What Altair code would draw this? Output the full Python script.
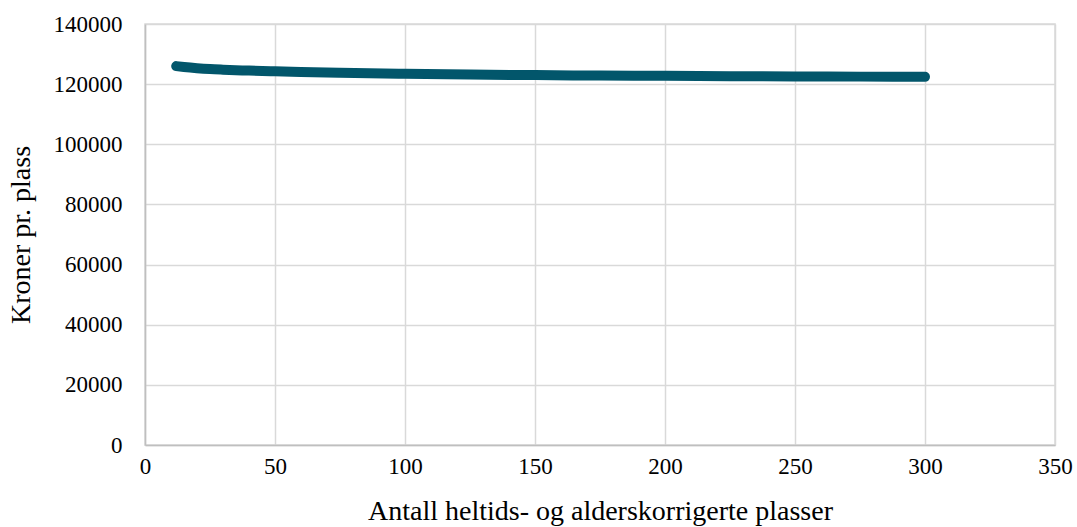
import altair as alt
import pandas as pd

# Cost per place by number of full-time, age-adjusted places
plasser = [12, 15, 20, 25, 30, 40, 50, 60, 75, 100, 125, 150, 175, 200, 225, 250, 275, 300]
kroner = [126000, 125700, 125300, 125000, 124800, 124500, 124250, 124050, 123800,
          123450, 123200, 123000, 122850, 122750, 122650, 122580, 122500, 122430]

x_ticks = [0, 50, 100, 150, 200, 250, 300, 350]
y_ticks = [0, 20000, 40000, 60000, 80000, 100000, 120000, 140000]

df = pd.DataFrame({"plasser": plasser, "kroner": kroner})

FONT = "Liberation Serif"

chart = (
    alt.Chart(df)
    .mark_line(color="#02566b", strokeWidth=10, strokeCap="round", interpolate="monotone")
    .encode(
        x=alt.X(
            "plasser:Q",
            scale=alt.Scale(domain=[0, 350], nice=False, zero=True),
            axis=alt.Axis(
                values=x_ticks,
                title="Antall heltids- og alderskorrigerte plasser",
                titleFontSize=28,
                titleFontWeight="normal",
                titlePadding=19,
                labelFontSize=23,
                labelPadding=10,
                labelFlush=False,
                ticks=False,
                grid=True,
            ),
        ),
        y=alt.Y(
            "kroner:Q",
            scale=alt.Scale(domain=[0, 140000], nice=False),
            axis=alt.Axis(
                values=y_ticks,
                format="d",
                title="Kroner pr. plass",
                titleFontSize=28,
                titleFontWeight="normal",
                titlePadding=18,
                labelFontSize=23,
                labelPadding=23,
                labelFlush=False,
                ticks=False,
                grid=True,
            ),
        ),
    )
    .properties(
        width=910,
        height=421,
        background="white",
        padding={"left": 145, "top": 24, "right": 22, "bottom": 82},
        autosize=alt.AutoSizeParams(type="none"),
    )
    .configure_view(stroke="#d9d9d9", strokeWidth=1.5)
    .configure_axis(
        labelFont=FONT,
        titleFont=FONT,
        labelColor="#000000",
        titleColor="#000000",
        gridColor="#d9d9d9",
        gridWidth=1.5,
        gridOpacity=1,
        domainColor="#bfbfbf",
        domainWidth=1.5,
    )
)

chart.save("out.html", embed_options={"renderer": "svg", "actions": False})
